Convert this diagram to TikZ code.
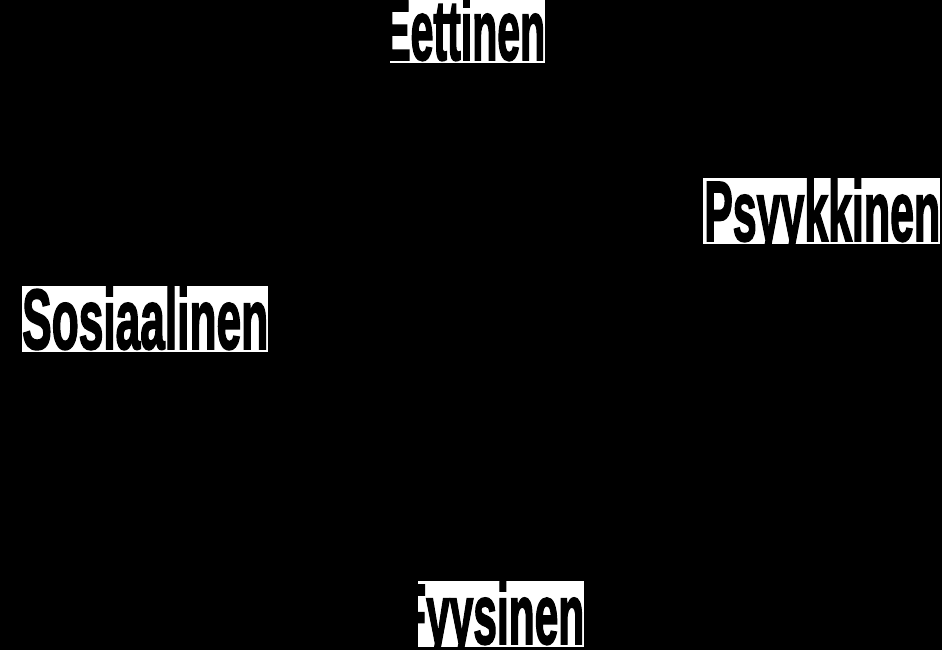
\documentclass[tikz,border=0pt]{standalone}
\usepackage{fontspec}
\setmainfont{Liberation Sans}
\newfontfamily\heavyfont{Liberation Sans Bold}[FakeBold=2.5]
\usepackage{graphicx}
\newcommand{\aspectword}[2]{\resizebox{#1pt}{\height}{\heavyfont #2}}

\begin{document}
\begin{tikzpicture}[x=1pt,y=1pt]
      \tikzstyle{every node}+=[inner sep=0pt]
      \tikzstyle{aspect}=[fill=white,text=black,anchor=south west,font=\fontsize{85}{90}\selectfont,text height=63pt,text depth=3pt]
      \useasboundingbox (0,0) rectangle (942,650);
      \fill [black] (0,0) rectangle (942,650);
      \node [aspect] (eettinen) at (390,587) {\kern-7pt\aspectword{162}{Eettinen}};
      \node [aspect] (psyykkinen) at (703,406) {\kern1pt\aspectword{236}{Psyykkinen}};
      \node [aspect] (sosiaalinen) at (22,298) {\aspectword{246}{Sosiaalinen}};
      \node [aspect] (fyysinen) at (418,3) {\kern-18pt\aspectword{184}{Fyysinen}};
    \end{tikzpicture}
\end{document}
